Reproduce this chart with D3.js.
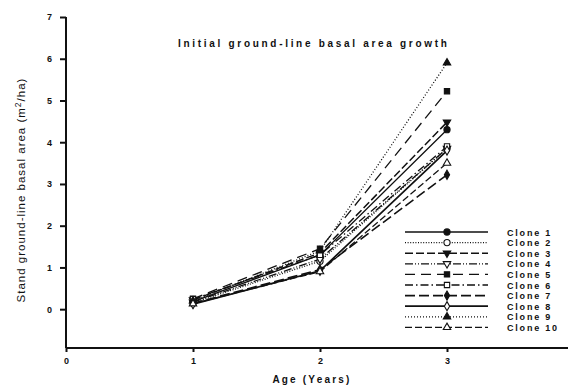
<!DOCTYPE html>
<html><head><meta charset="utf-8">
<script src="https://cdn.jsdelivr.net/npm/d3@7"></script>
<style>
html,body{margin:0;padding:0;background:#fff;}
svg{display:block;font-family:"Liberation Sans",Arial,sans-serif;}
</style></head>
<body><svg id="c" width="568" height="387"></svg>
<script>
const ages = [1, 2, 3];
const clones = ["Clone 1","Clone 2","Clone 3","Clone 4","Clone 5","Clone 6","Clone 7","Clone 8","Clone 9","Clone 10"];
const clone1 = [0.18, 1.30, 4.30];
const clone2 = [0.15, 1.15, 3.85];
const clone3 = [0.22, 1.35, 4.48];
const clone4 = [0.17, 1.20, 3.85];
const clone5 = [0.25, 1.45, 5.22];
const clone6 = [0.24, 1.30, 3.90];
const clone7 = [0.14, 0.95, 3.22];
const clone8 = [0.12, 0.92, 3.80];
const clone9 = [0.20, 1.40, 5.90];
const clone10 = [0.13, 0.90, 3.50];
const seriesValues = [clone1, clone2, clone3, clone4, clone5, clone6, clone7, clone8, clone9, clone10];
const xTicks = [0, 1, 2, 3];
const yTicks = [0, 1, 2, 3, 4, 5, 6, 7];

const styles = [
  {dash:null, w:1.3, sym:d3.symbolCircle, fill:true, rot:0},
  {dash:"1,1.6", w:1.3, sym:d3.symbolCircle, fill:false, rot:0},
  {dash:"8,3", w:1.5, sym:d3.symbolTriangle, fill:true, rot:180},
  {dash:"8,2,1,2,1,2", w:1.3, sym:d3.symbolTriangle, fill:false, rot:180},
  {dash:"10,6", w:1.3, sym:d3.symbolSquare, fill:true, rot:0},
  {dash:"8,3,1.5,3", w:1.3, sym:d3.symbolSquare, fill:false, rot:0},
  {dash:"10,4", w:1.6, sym:d3.symbolDiamond, fill:true, rot:0},
  {dash:null, w:1.7, sym:d3.symbolDiamond, fill:false, rot:0},
  {dash:"1,2", w:1.3, sym:d3.symbolTriangle, fill:true, rot:0},
  {dash:"7,3", w:1.2, sym:d3.symbolTriangle, fill:false, rot:0}
];
const symSize = (s) => s.sym===d3.symbolCircle ? 30 : s.sym===d3.symbolSquare ? 28 : 24;

const svg = d3.select("#c");
const x = d3.scaleLinear().domain([0, 4]).range([66, 574]);
const y = d3.scaleLinear().domain([-0.93, 7]).range([348, 17]);
const ink = "#111";

// axes
const yAxis = svg.append("g").attr("transform","translate(66,0)")
  .call(d3.axisLeft(y).tickValues(yTicks).tickSize(6).tickPadding(8).tickFormat(d3.format("d")));
const xAxis = svg.append("g").attr("transform","translate(0,348)")
  .call(d3.axisBottom(x).tickValues(xTicks).tickSize(4).tickPadding(6).tickFormat(d3.format("d")));
[yAxis, xAxis].forEach(a => {
  a.select(".domain").attr("stroke", ink).attr("stroke-width", 2);
  a.selectAll(".tick line").attr("stroke", ink).attr("stroke-width", 2);
  a.selectAll(".tick text").attr("fill", ink).attr("font-size", 9).attr("font-weight","bold")
    .attr("font-family","'Liberation Sans',Arial,sans-serif");
});
yAxis.select(".domain").attr("d", `M0,${y(7)}V${y.range()[0]}`);
xAxis.select(".domain").attr("d", `M${x(0)},0H568`);

// lines
const line = d3.line().x((d,i)=>x(ages[i])).y(d=>y(d));
const symGen = (s) => d3.symbol().type(s.sym).size(symSize(s))();

seriesValues.forEach((vals, k) => {
  const s = styles[k];
  svg.append("path").datum(vals).attr("d", line)
    .attr("fill","none").attr("stroke", ink).attr("stroke-width", s.w)
    .attr("stroke-dasharray", s.dash);
});
seriesValues.forEach((vals, k) => {
  const s = styles[k];
  svg.append("g").selectAll("path").data(vals).join("path")
    .attr("d", symGen(s))
    .attr("transform", (d,i)=>`translate(${x(ages[i])},${y(d)}) rotate(${s.rot})`)
    .attr("fill", s.fill ? ink : "#fff").attr("stroke", ink).attr("stroke-width", 1.1);
});

// legend
const lg = svg.append("g");
clones.forEach((name, k) => {
  const s = styles[k];
  const yy = 232 + k * 10.6;
  lg.append("line").attr("x1",405).attr("x2",488).attr("y1",yy).attr("y2",yy)
    .attr("stroke", ink).attr("stroke-width", s.w).attr("stroke-dasharray", s.dash);
  lg.append("path").attr("d", symGen(s))
    .attr("transform", `translate(447,${yy}) rotate(${s.rot})`)
    .attr("fill", s.fill ? ink : "#fff").attr("stroke", ink).attr("stroke-width", 1.1);
  lg.append("text").attr("x", 507).attr("y", yy + 3.5).text(name)
    .attr("font-size", 9).attr("font-weight","bold").attr("letter-spacing", 1.8).attr("fill", ink);
});

// title
svg.append("text").attr("x", 178).attr("y", 47).text("Initial ground-line basal area growth")
  .attr("font-size", 10).attr("font-weight","bold").attr("letter-spacing", 2.7).attr("fill", ink);

// x label
svg.append("text").attr("x", 312).attr("y", 383).attr("text-anchor","middle").text("Age (Years)")
  .attr("font-size", 10).attr("font-weight","bold").attr("letter-spacing", 2.2).attr("fill", ink);

// y label
const yl = svg.append("text").attr("transform","translate(25,190) rotate(-90)")
  .attr("text-anchor","middle").attr("font-size", 11.5).attr("letter-spacing", 1.0).attr("fill", ink);
yl.append("tspan").text("Stand ground-line basal area (m");
yl.append("tspan").attr("dy", -4.5).attr("font-size", 8.5).text("2");
yl.append("tspan").attr("dy", 4.5).text("/ha)");
</script></body></html>
